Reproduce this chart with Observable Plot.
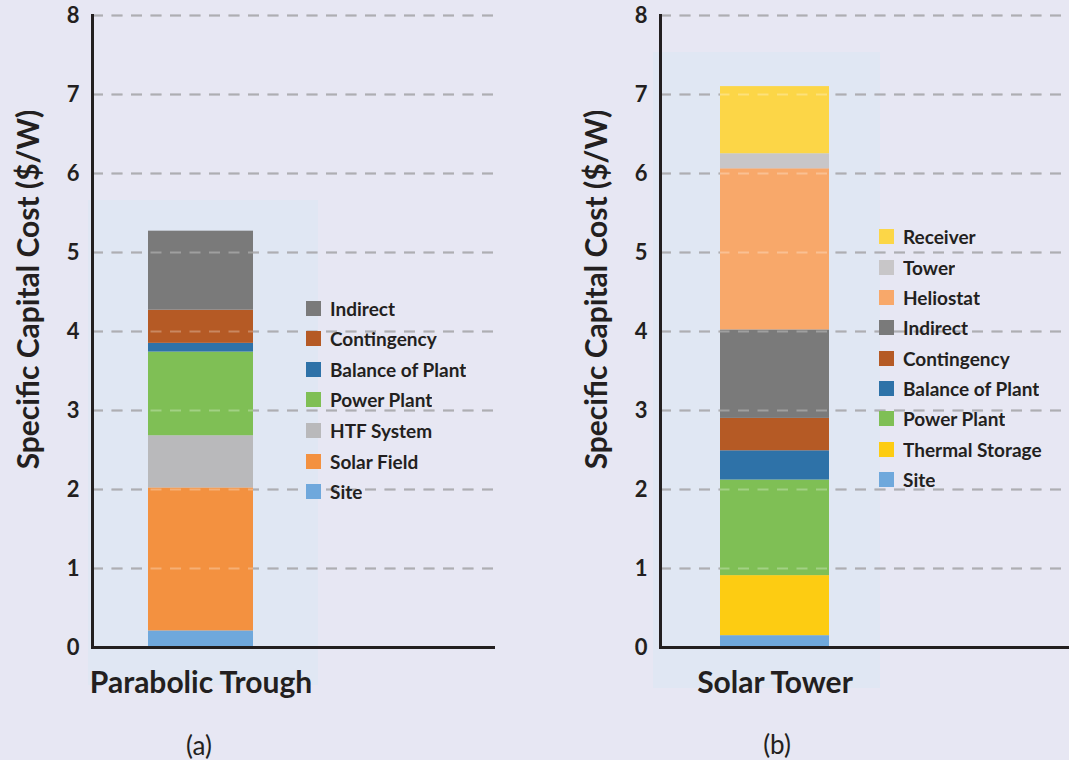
<!DOCTYPE html>
<html>
<head>
<meta charset="utf-8">
<script src="https://cdn.jsdelivr.net/npm/d3@7"></script>
<script src="https://cdn.jsdelivr.net/npm/@observablehq/plot@0.6"></script>
<style>
  html, body { margin: 0; padding: 0; background: #e7e7f3; }
  #root { position: relative; width: 1069px; height: 760px; background: #e7e7f3; overflow: hidden; font-family: Lato, "Open Sans", sans-serif; color: #231f20; }
  .halo { position: absolute; background: #e0e7f3; }
  .panel { position: absolute; top: 0; }
  .legend { position: absolute; }
  .cap { position: absolute; font-size: 26px; font-weight: 400; transform: translate(-50%, -50%); white-space: nowrap; }
  .lgA-swatches, .lgB-swatches { margin: 0 !important; font-family: Lato, sans-serif !important; font-size: 19px !important; font-weight: 700 !important; color: #231f20 !important; }
  .lgA-swatch { height: 30.65px; padding: 0 !important; display: flex; align-items: center; }
  .lgB-swatch { height: 30.35px; padding: 0 !important; display: flex; align-items: center; }
  .lgA-swatch > svg, .lgB-swatch > svg { margin-right: 9px !important; }
</style>
</head>
<body>
<div id="root">
  <div class="halo" style="left:88px;top:200px;width:230px;height:485px"></div>
  <div class="halo" style="left:653px;top:52px;width:227px;height:636px"></div>
</div>
<script>
// ---- data ----
const yTicks = [0, 1, 2, 3, 4, 5, 6, 7, 8];
const yTitle = "Specific Capital Cost ($/W)";

const troughName = "Parabolic Trough";
const troughComponents = ["Site", "Solar Field", "HTF System", "Power Plant", "Balance of Plant", "Contingency", "Indirect"];
const troughCosts = [0.21, 1.81, 0.66, 1.06, 0.11, 0.42, 1.00];
const troughColors = ["#6fa8dc", "#f39140", "#b9b9bb", "#7fbf55", "#2e72a8", "#b55a25", "#7a7a7a"];

const towerName = "Solar Tower";
const towerComponents = ["Site", "Thermal Storage", "Power Plant", "Balance of Plant", "Contingency", "Indirect", "Heliostat", "Tower", "Receiver"];
const towerCosts = [0.15, 0.76, 1.21, 0.37, 0.41, 1.12, 2.04, 0.19, 0.85];
const towerColors = ["#6fa8dc", "#fdcc12", "#7fbf55", "#2e72a8", "#b55a25", "#7a7a7a", "#f8a86a", "#c8c6c8", "#fcd647"];

const panelCaptions = ["(a)", "(b)"];

// ---- drawing ----
const root = document.getElementById("root");

function makePanel({name, components, costs, colors, width, marginLeft, marginRight, band, padding}) {
  const rows = components.map((c, i) => ({category: name, component: c, cost: costs[i]}));
  const dash = "11,8.5";
  return Plot.plot({
    width, height: 710,
    marginTop: 15, marginBottom: 63, marginLeft, marginRight,
    style: {background: "transparent", fontFamily: "Lato, sans-serif", color: "#231f20", overflow: "visible"},
    x: {type: "band", domain: [name], range: band, padding, label: null},
    y: {domain: [0, 8], label: null},
    color: {domain: components, range: colors},
    marks: [
      Plot.gridY(yTicks, {stroke: "#8f8f95", strokeOpacity: 1, strokeWidth: 1.8, strokeDasharray: dash}),
      Plot.barY(rows, {x: "category", y: "cost", fill: "component", order: components}),
      Plot.gridY(yTicks, {stroke: "#ffffff", strokeOpacity: 0.28, strokeWidth: 1.8, strokeDasharray: dash}),
      Plot.axisY(yTicks, {tickSize: 0, tickPadding: 13, tickFormat: "d", fontSize: 22, fontWeight: 700, label: null}),
      Plot.axisX({tickSize: 0, tickPadding: 24, fontSize: 30, fontWeight: 700, label: null}),
      Plot.frame({anchor: "left", stroke: "#231f20", strokeWidth: 3}),
      Plot.frame({anchor: "bottom", stroke: "#231f20", strokeWidth: 3}),
      Plot.text([yTitle], {frameAnchor: "left", textAnchor: "middle", rotate: -90, dx: -63, dy: -42, fontSize: 30, fontWeight: 700, fill: "#231f20"})
    ]
  });
}

const left = makePanel({name: troughName, components: troughComponents, costs: troughCosts, colors: troughColors,
  width: 534, marginLeft: 92, marginRight: 41, band: [92, 310], padding: 0.3457});
const right = makePanel({name: towerName, components: towerComponents, costs: towerCosts, colors: towerColors,
  width: 535, marginLeft: 126, marginRight: 0, band: [126, 356], padding: 0.353});

const wrapL = document.createElement("div"); wrapL.className = "panel"; wrapL.style.left = "0px"; wrapL.appendChild(left);
const wrapR = document.createElement("div"); wrapR.className = "panel"; wrapR.style.left = "534px"; wrapR.appendChild(right);
root.appendChild(wrapL); root.appendChild(wrapR);

function makeLegend(components, colors, cls, x, y) {
  const lg = Plot.legend({
    color: {domain: components.slice().reverse(), range: colors.slice().reverse()},
    legend: "swatches", columns: 1, swatchSize: 15, className: cls
  });
  const d = document.createElement("div");
  d.className = "legend"; d.style.left = x + "px"; d.style.top = y + "px";
  d.appendChild(lg);
  root.appendChild(d);
}
makeLegend(troughComponents, troughColors, "lgA", 306, 292.7);
makeLegend(towerComponents, towerColors, "lgB", 879, 221.5);

[[panelCaptions[0], 199, 745], [panelCaptions[1], 777, 744]].forEach(([t, x, y]) => {
  const c = document.createElement("div");
  c.className = "cap"; c.textContent = t; c.style.left = x + "px"; c.style.top = y + "px";
  root.appendChild(c);
});
</script>
</body>
</html>
